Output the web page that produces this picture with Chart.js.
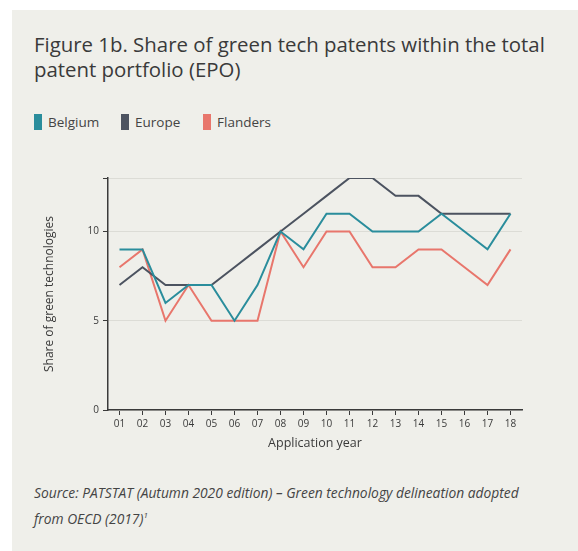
<!DOCTYPE html>
<html>
<head>
<meta charset="utf-8">
<script src="https://cdn.jsdelivr.net/npm/chart.js@4"></script>
<style>
  html, body { margin: 0; padding: 0; background: #ffffff; }
  body { width: 578px; height: 551px; position: relative; overflow: hidden; font-family: "Open Sans", sans-serif; color: #3a3a3a; }
  #panel { position: absolute; left: 12px; top: 10px; width: 566px; height: 541px; background: #efefea; }
  #title { position: absolute; left: 34px; top: 32px; font-size: 20.4px; line-height: 25px; color: #3a3a3a; width: 535px; }
  #legend { position: absolute; left: 34px; top: 113px; font-size: 13.5px; color: #444; }
  .item { position: absolute; top: 0; white-space: nowrap; line-height: 18px; }
  .sw { display: inline-block; width: 8px; height: 16px; vertical-align: -3px; margin-right: 6px; }
  #wrap { position: absolute; left: 30px; top: 168px; width: 510px; height: 287px; }
  #source { position: absolute; left: 34px; top: 482px; font-size: 13.8px; line-height: 22px; font-style: italic; color: #444; width: 540px; white-space: nowrap; }
</style>
</head>
<body>
<div id="panel"></div>
<div id="title">Figure 1b. Share of green tech patents within the total patent portfolio (EPO)</div>
<div id="legend"></div>
<div id="wrap"><canvas id="chart"></canvas></div>
<div id="source">Source: PATSTAT (Autumn 2020 edition) – Green technology delineation adopted<br>from OECD (2017)<sup style="font-size:8px">1</sup></div>
<script>
// data
let years = ["01", "02", "03", "04", "05", "06", "07", "08", "09", "10", "11", "12", "13", "14", "15", "16", "17", "18"];
let belgium = [9, 9, 6, 7, 7, 5, 7, 10, 9, 11, 11, 10, 10, 10, 11, 10, 9, 11];
let europe = [7, 8, 7, 7, 7, 8, 9, 10, 11, 12, 13, 13, 12, 12, 11, 11, 11, 11];
let flanders = [8, 9, 5, 7, 5, 5, 5, 10, 8, 10, 10, 8, 8, 9, 9, 8, 7, 9];

let seriesNames = ["Belgium", "Europe", "Flanders"];
let seriesColors = ["#2a8d9c", "#4c5360", "#e8766c"];

// html legend
let legend = document.getElementById("legend");
let legendX = [0, 87, 169];
seriesNames.forEach(function (name, i) {
    let item = document.createElement("div");
    item.className = "item";
    item.style.left = legendX[i] + "px";
    item.innerHTML = '<span class="sw" style="background:' + seriesColors[i] + '"></span>' + name;
    legend.appendChild(item);
});

let ctx = document.getElementById("chart");
let dark = "#3a3a3a";

new Chart(ctx, {
    type: "line",
    data: {
        labels: years,
        datasets: [
            { label: "Belgium", data: belgium, borderColor: seriesColors[0] },
            { label: "Europe", data: europe, borderColor: seriesColors[1] },
            { label: "Flanders", data: flanders, borderColor: seriesColors[2] }
        ].map(function (d) {
            d.borderWidth = 2;
            d.pointRadius = 0;
            d.tension = 0;
            d.fill = false;
            return d;
        })
    },
    options: {
        responsive: true,
        maintainAspectRatio: false,
        animation: false,
        layout: { padding: { top: 8, right: 18, left: 8, bottom: 0 } },
        plugins: {
            legend: { display: false },
            tooltip: { enabled: false }
        },
        scales: {
            x: {
                offset: true,
                grid: { offset: false, drawOnChartArea: false, drawTicks: true, tickLength: 5, tickColor: dark },
                border: { color: dark, width: 1.5 },
                ticks: { color: dark, font: { family: "Open Sans", size: 10 }, padding: 3, maxRotation: 0 },
                title: { display: true, text: "Application year", color: dark, font: { family: "Open Sans", size: 12.5 }, padding: { top: 2 } },
                afterFit: function (scale) { scale.height = 45; }
            },
            y: {
                min: 0,
                max: 13,
                ticks: {
                    stepSize: 5,
                    color: dark,
                    font: { family: "Open Sans", size: 10 },
                    padding: 4,
                    callback: function (v) { return v % 5 === 0 ? v : ""; }
                },
                grid: { color: "#dcdcd6", lineWidth: 1, tickLength: 5, tickColor: dark },
                border: { color: dark, width: 1.5 },
                title: { display: true, text: "Share of green technologies", color: dark, font: { family: "Open Sans", size: 12 } },
                afterFit: function (scale) { scale.width = 70; }
            }
        }
    }
});
</script>
</body>
</html>
